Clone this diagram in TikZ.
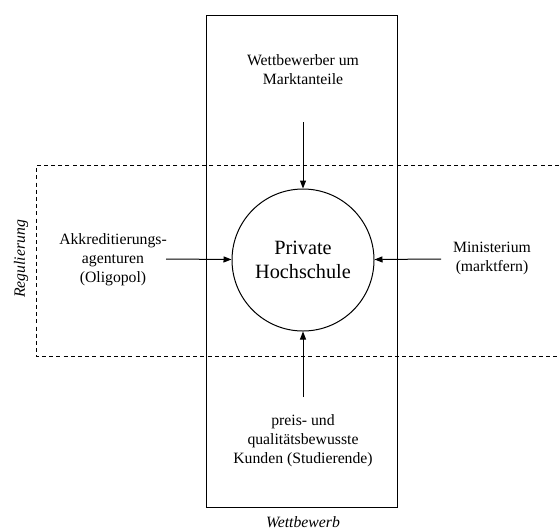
\documentclass[tikz,border=0pt]{standalone}
\usepackage{fontspec}
\setmainfont{Liberation Serif}
\usetikzlibrary{arrows.meta}

\tikzset{every picture/.style={line width=0.75pt}}
\tikzset{
  txt/.style={align=center,font=\fontsize{11.8}{14.3}\selectfont},
  kursiv/.style={font=\fontsize{11.8}{14.3}\selectfont\itshape},
  pfeil/.style={-{Triangle[length=6pt,width=4.5pt]}},
  grenze/.style={dash pattern={on 3pt off 2.4pt}}
}

\begin{document}
\begin{tikzpicture}[x=0.75pt,y=0.75pt,yscale=-1,xscale=1]
	\useasboundingbox (0,0) rectangle (559,529);

	%Shape: Rectangle (Wettbewerb)
	\draw   (206.5,15) rectangle (397.5,507) ;
	%Shape: open dashed box (Regulierung)
	\draw  [grenze]  (559,165.5) -- (36,165.5) -- (36,356.5) -- (559,356.5) ;

	%Shape: Circle
	\node [circle,draw,minimum size=106.5pt,inner sep=0pt,align=center,font=\fontsize{15.2}{18.5}\selectfont] (hs) at (303,260) {Private\\Hochschule};

	% Text Nodes
	\node [txt] (wb) at (303,69.5) {Wettbewerber um\\Marktanteile};
	\node [txt] (ak) at (113,260) {Akkreditierungs-\\agenturen\\(Oligopol)};
	\node [txt] (mi) at (492,258.5) {Ministerium\\(marktfern)};
	\node [txt] (ku) at (303,440.5) {preis- und\\qualitätsbewusste\\Kunden (Studierende)};
	\node [kursiv] (wtb) at (303,522) {Wettbewerb};
	\node [kursiv,rotate=90] (reg) at (21,259) {Regulierung};

	% Arrow start points
	\coordinate (wbS) at (303,122);
	\coordinate (akS) at (166,259);
	\coordinate (miS) at (441,259);
	\coordinate (kuS) at (303,397);

	%Straight Lines
	\draw [pfeil] (wbS) -- (hs);
	\draw [pfeil] (akS) -- (hs);
	\draw [pfeil] (miS) -- (hs);
	\draw [pfeil] (kuS) -- (hs);

\end{tikzpicture}
\end{document}
